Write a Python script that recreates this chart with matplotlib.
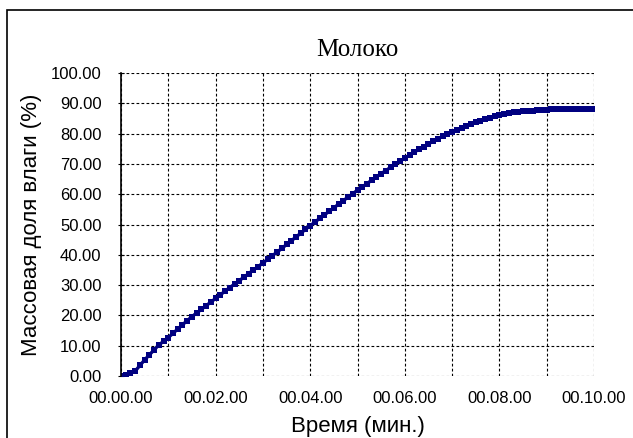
import matplotlib.pyplot as plt
from matplotlib.patches import Rectangle
from matplotlib.ticker import MultipleLocator, FuncFormatter

# time in minutes, sampled every 6 seconds
minutes = [i / 10 for i in range(101)]
moisture = [
    0.0, 0.3, 1.0, 1.6, 3.5, 5.3, 7.0, 8.6, 10.3, 11.4,
    12.7, 14.1, 15.5, 16.9, 18.3, 19.6, 20.8, 22.0, 23.2, 24.4,
    25.6, 26.8, 28.0, 29.2, 30.3, 31.5, 32.6, 33.8, 35.0, 36.1,
    37.3, 38.5, 39.7, 40.9, 42.1, 43.4, 44.6, 45.9, 47.1, 48.4,
    49.6, 50.8, 52.0, 53.2, 54.3, 55.5, 56.7, 57.9, 59.0, 60.2,
    61.3, 62.4, 63.5, 64.6, 65.7, 66.8, 67.8, 68.9, 69.9, 70.9,
    71.9, 72.9, 73.9, 74.8, 75.7, 76.6, 77.5, 78.3, 79.1, 79.8,
    80.5, 81.2, 81.8, 82.5, 83.1, 83.7, 84.3, 84.8, 85.3, 85.8,
    86.2, 86.5, 86.8, 87.0, 87.2, 87.4, 87.5, 87.6, 87.7, 87.8,
    87.9, 88.0, 88.0, 88.0, 88.0, 88.0, 88.0, 88.0, 88.0, 88.0,
    88.0,
]

plt.rcParams['font.family'] = ['Liberation Sans', 'DejaVu Sans']

fig = plt.figure(figsize=(6.33, 4.38), dpi=100)
ax = fig.add_axes([121 / 633, 62 / 438, 473 / 633, 303 / 438])

# outer chart frame (clipped on the right and bottom)
fig.patches.append(Rectangle((7 / 633, -0.1), 1.2, (428 / 438) + 0.1,
                             transform=fig.transFigure, fill=False,
                             edgecolor='black', linewidth=1.2))

ax.plot(minutes, moisture, color='#000080', linewidth=2.4,
        marker='s', markersize=4.2, markeredgewidth=0)

ax.set_xlim(0, 10)
ax.set_ylim(0, 100)
ax.xaxis.set_major_locator(MultipleLocator(2))
ax.xaxis.set_minor_locator(MultipleLocator(1))
ax.yaxis.set_major_locator(MultipleLocator(10))
ax.xaxis.set_major_formatter(FuncFormatter(lambda v, p: '00.%02d.00' % int(round(v))))
ax.yaxis.set_major_formatter(FuncFormatter(lambda v, p: '%.2f' % v))

ax.grid(True, which='both', color='black', linestyle=(0, (2.5, 2)), linewidth=0.8)
ax.set_axisbelow(True)

for side in ['top', 'right', 'bottom']:
    ax.spines[side].set_visible(False)
ax.spines['left'].set_linewidth(1.2)

ax.tick_params(axis='x', which='both', length=0, pad=11, labelsize=12)
ax.tick_params(axis='y', length=4, direction='inout', pad=12, labelsize=12)

ax.set_title('Молоко', fontsize=18, family='Liberation Serif', pad=12)
ax.set_xlabel('Время (мин.)', fontsize=16, labelpad=7)
ax.set_ylabel('Массовая доля влаги (%)', fontsize=16, labelpad=6)

fig.savefig('out.png', dpi=100)
